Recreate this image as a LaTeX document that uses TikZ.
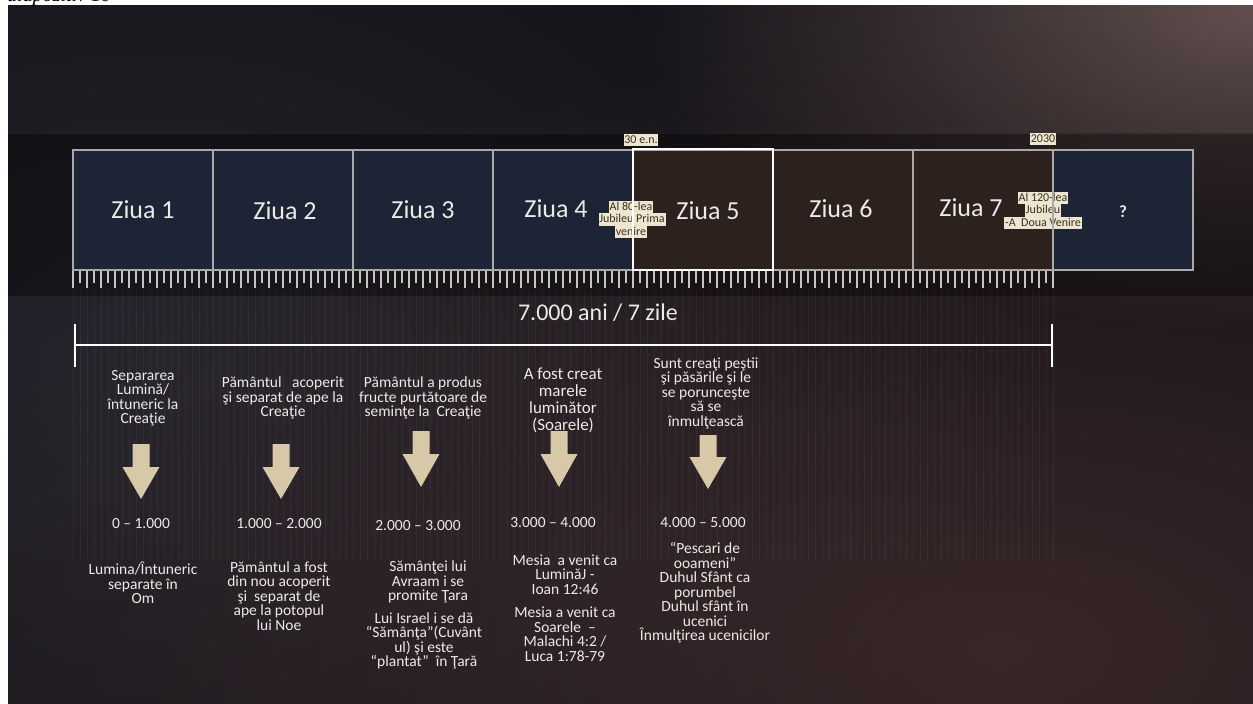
\documentclass[tikz,border=0pt]{standalone}
\usepackage{fontspec}
\setmainfont{Carlito}
\newfontfamily\capfont{Liberation Serif}
\usetikzlibrary{fadings}
\tikzfading[name=glowfade, inner color=transparent!0, outer color=transparent!100]
\definecolor{bgdark}{HTML}{111015}
\definecolor{navybox}{HTML}{1D2435}
\definecolor{brownbox}{HTML}{2C211D}
\definecolor{boxline}{HTML}{A9A9A9}
\definecolor{tanc}{HTML}{D7C8A7}
\definecolor{tagbg}{HTML}{EDE5CF}
\definecolor{tagtext}{HTML}{3A3122}
\definecolor{txt}{HTML}{ECEAE6}
\definecolor{tickc}{HTML}{C4C4C4}
\definecolor{glowtop}{HTML}{6A5654}
\definecolor{glowbot}{HTML}{4A3131}
\definecolor{glowleft}{HTML}{2A2A33}
\tikzset{
 daytitle/.style={text=txt, font=\fontsize{26}{28}\selectfont, inner sep=0pt},
 body/.style={text=txt, align=center, font=\fontsize{15.5}{14.5}\selectfont, inner sep=0pt},
 bigbody/.style={text=txt, align=center, font=\fontsize{17}{17}\selectfont, inner sep=0pt},
 tag/.style={fill=tagbg, text=tagtext, font=\fontsize{12}{12}\selectfont, inner xsep=0.8pt, inner ysep=0.5pt, text height=8.6pt, text depth=2.6pt},
 navycell/.style={fill=navybox},
 browncell/.style={fill=brownbox},
 tickmark/.style={draw=tickc, line width=1.1pt},
 stripe/.style={draw=white, opacity=0.045, line width=1pt},
 bracket/.style={draw=white, line width=2.6pt},
 cellborder/.style={draw=boxline, line width=1.3pt},
}
\newcommand\blockdown[4]{%
 \fill[tanc] (#1-8.5,#2) -- (#1+8.5,#2) -- (#1+8.5,#3) -- (#1+18.5,#3) -- (#1,#4) -- (#1-18.5,#3) -- (#1-8.5,#3) -- cycle;}
\begin{document}
\begin{tikzpicture}[x=1pt,y=-1pt]
\useasboundingbox (0,0) rectangle (1253,704);
\fill[white] (0,0) rectangle (1253,704);
% background
\begin{scope}
\clip (8,5) rectangle (1253,704);
\fill[bgdark] (8,5) rectangle (1253,704);
\fill[glowleft, path fading=glowfade, opacity=0.8] (150,360) ellipse (900 and 640);
\fill[glowtop, path fading=glowfade, opacity=0.9] (1253,10) ellipse (620 and 320);
\fill[glowbot, path fading=glowfade, opacity=0.7] (1000,650) ellipse (1200 and 620);
\fill[black, opacity=0.35] (8,133) rectangle (1253,296);
\draw[white, opacity=0.06, line width=1pt] (8,133) -- (1253,133);
\end{scope}
% caption (cut off at the top)
\node[anchor=base west, font=\capfont\itshape\fontsize{20}{20}\selectfont, text=black, inner sep=0pt] (cap) at (7,1.5) {diapozitiv 10};
% faint stripes
\foreach \i in {0,...,140} {
 \draw[stripe] (73+7*\i,290) -- (73+7*\i,560);
}
% cells
\fill[navycell] (73,150) rectangle (633,270);
\fill[browncell] (633,150) rectangle (1053,270);
\fill[navycell] (1053,150) rectangle (1193,270);
% tags
\node[tag] (t30) at (641,140) {30 e.n.};
\node[tag] (t2030) at (1043,139) {2030};
\node[tag] (j80a) at (631,207) {Al 80-lea};
\node[tag] (j80b) at (632,219.5) {Jubileu Prima};
\node[tag] (j80c) at (631,232) {venire};
\node[tag] (j120a) at (1043,198) {Al 120-lea};
\node[tag] (j120b) at (1043,210.5) {Jubileu};
\node[tag] (j120c) at (1043,223) {-A\ \ Doua Venire};
% borders
\draw[cellborder] (73,150) rectangle (1193,270);
\foreach \x in {213,353,493,913,1053} {
 \draw[cellborder] (\x,150) -- (\x,270);
}
\draw[white, line width=2.6pt] (633,149) rectangle (773,270);
% day titles
\node[daytitle] (d1) at (143,210) {Ziua 1};
\node[daytitle] (d2) at (285,211) {Ziua 2};
\node[daytitle] (d3) at (423,210) {Ziua 3};
\node[daytitle] (d4) at (556,209) {Ziua 4};
\node[daytitle] (d5) at (708,211) {Ziua 5};
\node[daytitle] (d6) at (841,209) {Ziua 6};
\node[daytitle] (d7) at (971,208) {Ziua 7};
\node[text=txt, font=\fontsize{17}{17}\selectfont\bfseries, inner sep=0pt] (d8) at (1123,212) {?};
% ruler
\foreach \i in {0,...,140} {
 \pgfmathsetmacro\len{mod(\i,2)==0 ? 17 : 12}
 \draw[tickmark] (73+7*\i,271) -- (73+7*\i,271+\len);
}
% span label and bracket
\node[text=txt, font=\fontsize{24}{25}\selectfont, inner sep=0pt] (span) at (598,313) {7.000 ani / 7 zile};
\coordinate (bl) at (75,345);
\coordinate (br) at (1052,345);
\draw[bracket] (bl) -- (br);
\draw[bracket] ([yshift=-22pt]bl) -- ([yshift=21pt]bl);
\draw[bracket] ([yshift=-22pt]br) -- ([yshift=21pt]br);
% column titles
\node[body] (c1t) at (143,398.5) {Separarea\\Lumină/\\întuneric la\\Creaţie};
\node[body] (c2t) at (283,398) {Pământul\ \ \ acoperit\\şi separat de ape la\\Creaţie};
\node[body] (c3t) at (423,398) {Pământul a produs\\fructe purtătoare de\\seminţe la\ \ Creaţie};
\node[bigbody] (c4t) at (563,400.5) {A fost creat\\marele\\luminător\\(Soarele)};
\node[body] (c5t) at (706,393) {Sunt creaţi peştii\\şi păsările şi le\\se porunceşte\\să se\\înmulţească};
% arrows
\blockdown{141}{444}{467}{499}
\blockdown{281}{444}{467}{499}
\blockdown{421}{431}{454}{487}
\blockdown{559}{431}{454}{487}
\blockdown{708}{435}{457}{489}
% ranges
\node[body] (r1) at (141,524) {0 – 1.000};
\node[body] (r2) at (279,524) {1.000 – 2.000};
\node[body] (r3) at (418,526) {2.000 – 3.000};
\node[body] (r4) at (553,523) {3.000 – 4.000};
\node[body] (r5) at (703,523) {4.000 – 5.000};
% descriptions
\node[body] (e1) at (143,583) {Lumina/Întuneric\\separate în\\Om};
\node[body] (e2) at (279,596) {Pământul a fost\\din nou acoperit\\şi\ \ separat de\\ape la potopul\\lui Noe};
\node[body] (e3a) at (428,582) {Sămânţei lui\\Avraam i se\\promite Ţara};
\node[body] (e3b) at (424,641) {Lui Israel i se dă\\“Sămânţa”(Cuvânt\\ul) şi este\\“plantat”\ \ în Ţară};
\node[body] (e4a) at (565,574.5) {Mesia\ \ a venit ca\\LuminăJ -\\Ioan 12:46};
\node[body] (e4b) at (565,634) {Mesia a venit ca\\Soarele\ \ –\\Malachi 4:2 /\\Luca 1:78-79};
\node[body] (e5) at (705,593) {“Pescari de\\ooameni”\\Duhul Sfânt ca\\porumbel\\Duhul sfânt în\\ucenici\\Înmulţirea ucenicilor};
\end{tikzpicture}
\end{document}
